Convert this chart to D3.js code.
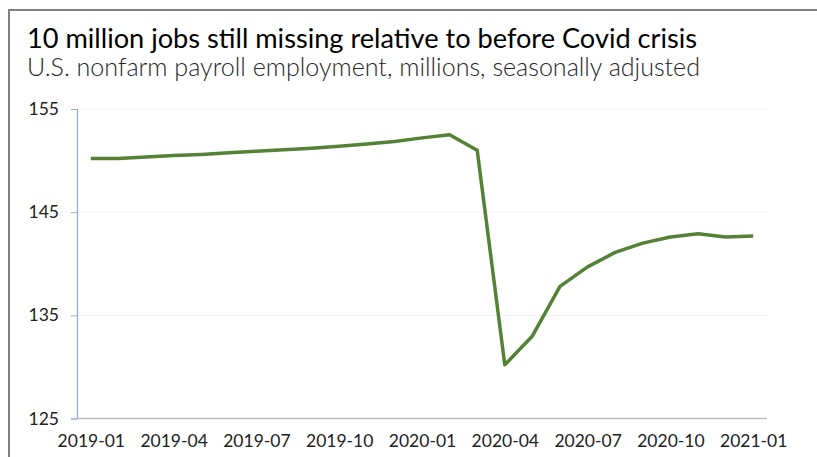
<!DOCTYPE html>
<html>
<head>
<meta charset="utf-8">
<script src="https://cdn.jsdelivr.net/npm/d3@7"></script>
<style>
  html, body { margin: 0; padding: 0; background: #fff; }
  svg { display: block; }
</style>
</head>
<body>
<svg id="chart" width="817" height="457"></svg>
<script>
const titleText = "10 million jobs still missing relative to before Covid crisis";
const subtitleText = "U.S. nonfarm payroll employment, millions, seasonally adjusted";

const months = [
  "2019-01","2019-02","2019-03","2019-04","2019-05","2019-06","2019-07","2019-08",
  "2019-09","2019-10","2019-11","2019-12","2020-01","2020-02","2020-03","2020-04",
  "2020-05","2020-06","2020-07","2020-08","2020-09","2020-10","2020-11","2020-12","2021-01"
];
const employment = [
  150.2, 150.2, 150.35, 150.5, 150.6, 150.75, 150.9, 151.05,
  151.2, 151.4, 151.6, 151.85, 152.2, 152.5, 151.0, 130.2,
  133.0, 137.8, 139.7, 141.1, 142.0, 142.6, 142.9, 142.6, 142.7
];
const xTickLabels = ["2019-01","2019-04","2019-07","2019-10","2020-01","2020-04","2020-07","2020-10","2021-01"];
const yTicks = [125, 135, 145, 155];

const svg = d3.select("#chart");
const W = 817, H = 457;
const plot = { left: 77, right: 767, top: 109, bottom: 418.5 };
const font = "Lato, 'Open Sans', sans-serif";

// frame
svg.append("rect")
  .attr("x", 9).attr("y", 10)
  .attr("width", W + 20).attr("height", H + 20)
  .attr("fill", "#fff").attr("stroke", "#7f7f7f").attr("stroke-width", 2);

svg.append("text")
  .attr("x", 27).attr("y", 48)
  .attr("font-family", font)
  .attr("font-weight", 400)
  .attr("font-size", 26)
  .attr("textLength", 670)
  .attr("lengthAdjust", "spacingAndGlyphs")
  .attr("fill", "#000")
  .text(titleText);

svg.append("text")
  .attr("x", 27).attr("y", 76)
  .attr("font-family", font)
  .attr("font-weight", 300)
  .attr("font-size", 25)
  .attr("textLength", 673)
  .attr("lengthAdjust", "spacingAndGlyphs")
  .attr("fill", "#262626")
  .text(subtitleText);

const x = d3.scalePoint().domain(months).range([plot.left, plot.right]).padding(0.5);
const y = d3.scaleLinear().domain([125, 155]).range([plot.bottom, plot.top]);

// gridlines
svg.append("g").selectAll("line")
  .data(yTicks.filter(d => d !== 125))
  .join("line")
  .attr("x1", plot.left).attr("x2", plot.right)
  .attr("y1", d => y(d)).attr("y2", d => y(d))
  .attr("stroke", "#f0f0f0").attr("stroke-width", 1);

// y axis
const yAxis = svg.append("g")
  .attr("transform", `translate(${plot.left},0)`)
  .call(d3.axisLeft(y).tickValues(yTicks).tickSize(6).tickPadding(12).tickFormat(d3.format("d")));
yAxis.select(".domain").attr("stroke", "#8faadc").attr("stroke-width", 1.2);
yAxis.selectAll(".tick line").attr("stroke", "#8faadc");
yAxis.selectAll(".tick text")
  .attr("font-family", font)
  .attr("font-size", 17.5)
  .attr("fill", "#222");

// x axis
const xAxis = svg.append("g")
  .attr("transform", `translate(0,${plot.bottom})`)
  .call(d3.axisBottom(x).tickValues(xTickLabels).tickSize(0).tickPadding(16));
xAxis.select(".domain").attr("stroke", "#bfbfbf").attr("stroke-width", 1.5)
  .attr("d", `M${plot.left - 6},0H${plot.right}`);
xAxis.selectAll(".tick text")
  .attr("font-family", font)
  .attr("font-size", 17.5)
  .attr("fill", "#222");

// line
const line = d3.line().x((d, i) => x(months[i])).y(d => y(d));
svg.append("path")
  .datum(employment)
  .attr("d", line)
  .attr("fill", "none")
  .attr("stroke", "#548235")
  .attr("stroke-width", 3.5)
  .attr("stroke-linejoin", "round");
</script>
</body>
</html>
